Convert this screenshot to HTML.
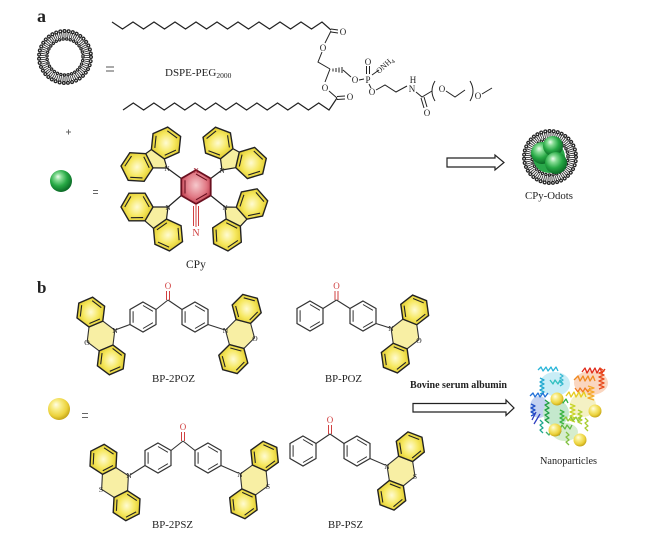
<!DOCTYPE html>
<html><head><meta charset="utf-8"><style>
html,body{margin:0;padding:0;background:#fff}
svg{display:block}
text{font-family:"Liberation Serif",serif;fill:#222}
</style></head><body>
<svg width="645" height="538" viewBox="0 0 645 538" xmlns="http://www.w3.org/2000/svg">
<defs>
<radialGradient id="gy" cx="50%" cy="50%" r="55%"><stop offset="0" stop-color="#fffbd2"/><stop offset=".55" stop-color="#f6e860"/><stop offset="1" stop-color="#e0ca2a"/></radialGradient>
<radialGradient id="gr" cx="50%" cy="45%" r="60%"><stop offset="0" stop-color="#f6c8cc"/><stop offset=".6" stop-color="#e07884"/><stop offset="1" stop-color="#b83040"/></radialGradient>
<radialGradient id="gg" cx="42%" cy="38%" r="62%" fx="36%" fy="30%"><stop offset="0" stop-color="#eefcee"/><stop offset=".25" stop-color="#86dc94"/><stop offset=".62" stop-color="#26a844"/><stop offset="1" stop-color="#0b6a26"/></radialGradient>
<radialGradient id="gs" cx="42%" cy="38%" r="62%" fx="36%" fy="30%"><stop offset="0" stop-color="#fffde6"/><stop offset=".35" stop-color="#f8ec84"/><stop offset=".75" stop-color="#ecd23c"/><stop offset="1" stop-color="#c6a61a"/></radialGradient>
<g id="y16"><polygon points="0,-16 13.86,-8 13.86,8 0,16 -13.86,8 -13.86,-8" fill="url(#gy)" stroke="#222" stroke-width="1.4"/><path d="M0,-12.3 L10.6,-6.1 M10.6,6.1 L0,12.3 M-10.6,6.1 L-10.6,-6.1" stroke="#222" stroke-width="1.1" fill="none"/></g>
<g id="y15"><polygon points="0,-15 13,-7.5 13,7.5 0,15 -13,7.5 -13,-7.5" fill="url(#gy)" stroke="#222" stroke-width="1.4"/><path d="M0,-11.5 L9.9,-5.7 M9.9,5.7 L0,11.5 M-9.9,5.7 L-9.9,-5.7" stroke="#222" stroke-width="1.1" fill="none"/></g>
<g id="w15"><polygon points="0,-15 13,-7.5 13,7.5 0,15 -13,7.5 -13,-7.5" fill="#fff" stroke="#333" stroke-width="1.2"/><path d="M0,-11.5 L9.9,-5.7 M9.9,5.7 L0,11.5 M-9.9,5.7 L-9.9,-5.7" stroke="#333" stroke-width="1" fill="none"/></g>
<g id="c15"><polygon points="0,-15 13,-7.5 13,7.5 0,15 -13,7.5 -13,-7.5" fill="#f6ea86" fill-opacity=".75" stroke="#333" stroke-width="1.1"/></g>
<g id="lipo">
<circle r="22" fill="none" stroke="#333" stroke-width="5" stroke-dasharray="0.9 1.1"/>
<circle r="26" fill="none" stroke="#222" stroke-width="4" stroke-dasharray="0.01 4.19" stroke-linecap="round"/>
<circle r="26" fill="none" stroke="#fff" stroke-width="1.5" stroke-dasharray="0.01 4.19" stroke-linecap="round"/>
<circle r="18" fill="none" stroke="#222" stroke-width="3.4" stroke-dasharray="0.01 3.59" stroke-linecap="round"/>
<circle r="18" fill="none" stroke="#fff" stroke-width="1.1" stroke-dasharray="0.01 3.59" stroke-linecap="round"/>
</g>
</defs>

<!-- ===== Part a ===== -->
<text x="37" y="22" font-size="18" font-weight="bold">a</text>
<use href="#lipo" transform="translate(65,57)"/>
<path d="M106,67 H114 M106,71 H114" stroke="#555" stroke-width="1"/>
<text x="165" y="76" font-size="11">DSPE-PEG<tspan font-size="7.5" dy="2">2000</tspan></text>

<!-- lipid chains -->
<polyline fill="none" stroke="#222" stroke-width="1.2" points="112,22 122.5,29 133,22 143.5,29 154,22 164.5,29 175,22 185.5,29 196,22 206.5,29 217,22 227.5,29 238,22 248.5,29 259,22 269.5,29 280,22 290.5,29 301,22 311.5,29 322,22 331,30"/>
<polyline fill="none" stroke="#222" stroke-width="1.2" points="123,110 133.3,103 143.6,110 153.9,103 164.2,110 174.5,103 184.8,110 195.1,103 205.4,110 215.7,103 226,110 236.3,103 246.6,110 256.9,103 267.2,110 277.5,103 287.8,110 298.1,103 308.4,110 318.7,103 329,110 337,98"/>
<g stroke="#222" stroke-width="1" fill="none">
<path d="M331,29 L338,30 M331,32 L338,33"/>
<path d="M331,31 L325,43"/>
<path d="M322,52 L318,62 L330,69"/>
<path d="M330,69 L325,82"/>
<path d="M329,91 L337,98"/>
<path d="M337,96.5 L345,96 M337,99.5 L345,99"/>
<path d="M333,68.5 V71.5 M336,68 V72 M339,67.5 V72.5 M342,67 V73"/>
<path d="M343,70 L351,77"/>
<path d="M359,80 L364,79"/>
<path d="M366.5,74 V66 M369.5,74 V66"/>
<path d="M372,75 L379,70"/>
<path d="M369,84 L371,88"/>
<path d="M376,90 L385,85 L396,92 L407,86"/>
<path d="M416,92 L422,97 L432,91"/>
<path d="M421,98 L424,108 M424,97 L427,107"/>
<path d="M435,81 Q429,91 435,101"/>
<path d="M446,91 L455,97 L465,90"/>
<path d="M470,81 Q476,91 470,101"/>
<path d="M482,94 L492,88"/>
</g>
<g font-size="9" text-anchor="middle">
<text x="343" y="35">O</text>
<text x="323" y="51">O</text>
<text x="325" y="91">O</text>
<text x="350" y="100">O</text>
<text x="355" y="83">O</text>
<text x="368" y="83">P</text>
<text x="368" y="65">O</text>
<text x="372" y="95">O</text>
<text x="412" y="92">N</text>
<text x="413" y="83">H</text>
<text x="427" y="116">O</text>
<text x="442" y="92">O</text>
<text x="478" y="99">O</text>
</g>
<text transform="translate(379,74) rotate(-42)" font-size="8">ONH<tspan font-size="6" dy="2">4</tspan></text>

<!-- plus, green sphere -->
<path d="M66,132 H71 M68.5,129.5 V134.5" stroke="#666" stroke-width="1"/>
<circle cx="61" cy="181" r="11" fill="url(#gg)"/>
<path d="M93,190.5 H98 M93,193.5 H98" stroke="#666" stroke-width="1"/>

<!-- CPy -->
<g>
<polygon points="167,168 153,167.9 145.8,153.6 151.4,149.5 164.3,158.9" fill="#f4e878" fill-opacity=".7"/>
<polygon points="222,170 220.5,158.8 232.9,148.7 239.3,152.1 235.7,167.7" fill="#f4e878" fill-opacity=".7"/>
<polygon points="168,207 153,207 145,220.9 153.5,228.3 166.5,219.1" fill="#f4e878" fill-opacity=".7"/>
<polygon points="225,207 236.3,207.2 246.9,219.2 240.4,226.2 226.1,219" fill="#f4e878" fill-opacity=".7"/>
<use href="#y16" transform="translate(137,167) rotate(33.4)"/>
<use href="#y16" transform="translate(166,143) rotate(6)"/>
<use href="#y16" transform="translate(218,143) rotate(51)"/>
<use href="#y16" transform="translate(251,163) rotate(13)"/>
<use href="#y16" transform="translate(137,207) rotate(30)"/>
<use href="#y16" transform="translate(168,235) rotate(54.8)"/>
<use href="#y16" transform="translate(252,204) rotate(18.6)"/>
<use href="#y16" transform="translate(227,235) rotate(-3.4)"/>
<g stroke="#222" stroke-width="1.2" fill="none">
<path d="M167,168 L153,167.9 M167,168 L164.3,158.9 M151.4,149.5 L145.8,153.6"/>
<path d="M222,170 L220.5,158.8 M222,170 L235.7,167.7 M232.9,148.7 L239.3,152.1"/>
<path d="M168,207 L153,207 M168,207 L166.5,219.1 M145,220.9 L153.5,228.3"/>
<path d="M225,207 L236.3,207.2 M225,207 L226.1,219 M246.9,219.2 L240.4,226.2"/>
<path d="M181.3,178.5 L167,168 M210.7,178.5 L222,170 M181.3,195.5 L168,207 M210.7,195.5 L225,207"/>
</g>
<polygon points="196,170 210.7,178.5 210.7,195.5 196,204 181.3,195.5 181.3,178.5" fill="url(#gr)" stroke="#6a1020" stroke-width="1.8"/>
<path d="M196,174 L207,180.3 M207,193.5 L196,199.8 M185,193.5 L185,180.3" stroke="#6a1020" stroke-width="1.1" fill="none"/>
<path d="M196,204 V227 M193.5,206 V226 M198.5,206 V226" stroke="#d04040" stroke-width="1"/>
<g font-size="7" text-anchor="middle">
<text x="167" y="171">N</text><text x="222" y="173">N</text><text x="168" y="210">N</text><text x="225" y="210">N</text>
<text x="196" y="173" style="fill:#a02030">N</text>
</g>
<text x="196" y="236" font-size="10" text-anchor="middle" style="fill:#d04040">N</text>
</g>
<text x="186" y="268" font-size="11.5">CPy</text>

<!-- arrow a -->
<polygon points="447,158 495,158 495,155 504,162.5 495,170 495,167 447,167" fill="#fff" stroke="#222" stroke-width="1.2"/>

<!-- CPy-Odots -->
<use href="#lipo" transform="translate(550,157)"/>
<circle cx="549" cy="157" r="16" fill="#2aa84a"/>
<circle cx="542" cy="153" r="11" fill="url(#gg)"/>
<circle cx="553" cy="146" r="10" fill="url(#gg)"/>
<circle cx="556" cy="163" r="11" fill="url(#gg)"/>
<text x="525" y="199" font-size="10.5" textLength="48" lengthAdjust="spacingAndGlyphs">CPy-Odots</text>

<!-- ===== Part b ===== -->
<text x="37" y="293" font-size="17" font-weight="bold">b</text>

<!-- BP-2POZ -->
<use href="#c15" transform="translate(101,336) rotate(7)"/>
<use href="#y15" transform="translate(90.8,312.1) rotate(7)"/>
<use href="#y15" transform="translate(111.2,359.9) rotate(7)"/>
<use href="#c15" transform="translate(240,334) rotate(-15)"/>
<use href="#y15" transform="translate(246.7,308.9) rotate(-15)"/>
<use href="#y15" transform="translate(233.3,359.1) rotate(-15)"/>
<use href="#w15" transform="translate(143,317)"/>
<use href="#w15" transform="translate(195,317)"/>
<g stroke="#333" stroke-width="1.1" fill="none">
<path d="M168,300 L156,309.5 M168,300 L182,309.5 M130,324.5 L115,330 M208,324.5 L225,330"/>
</g>
<path d="M166.5,300 V291 M169.5,300 V291" stroke="#d04040" stroke-width="1"/>

<!-- BP-POZ -->
<use href="#c15" transform="translate(405,334) rotate(-8)"/>
<use href="#y15" transform="translate(414.7,309.9) rotate(-8)"/>
<use href="#y15" transform="translate(395.3,358.1) rotate(-8)"/>
<use href="#w15" transform="translate(310,316)"/>
<use href="#w15" transform="translate(363,316)"/>
<g stroke="#333" stroke-width="1.1" fill="none">
<path d="M336.5,300 L323,308.5 M336.5,300 L350,308.5 M376,323.5 L390,328"/>
</g>
<path d="M335,300 V291 M338,300 V291" stroke="#d04040" stroke-width="1"/>

<!-- BP-2PSZ -->
<use href="#c15" transform="translate(115,482.5) rotate(3)"/>
<use href="#y15" transform="translate(103.4,459.3) rotate(3)"/>
<use href="#y15" transform="translate(126.6,505.7) rotate(3)"/>
<use href="#c15" transform="translate(254,480) rotate(-6)"/>
<use href="#y15" transform="translate(264.6,456.2) rotate(-6)"/>
<use href="#y15" transform="translate(243.4,503.8) rotate(-6)"/>
<use href="#w15" transform="translate(158,458)"/>
<use href="#w15" transform="translate(208,458)"/>
<g stroke="#333" stroke-width="1.1" fill="none">
<path d="M183,441 L171,450.5 M183,441 L195,450.5 M145,465.5 L130,475 M221,465.5 L238,473"/>
</g>
<path d="M181.5,441 V432 M184.5,441 V432" stroke="#d04040" stroke-width="1"/>

<!-- BP-PSZ -->
<use href="#c15" transform="translate(401,471) rotate(-9)"/>
<use href="#y15" transform="translate(410.3,446.7) rotate(-9)"/>
<use href="#y15" transform="translate(391.7,495.3) rotate(-9)"/>
<use href="#w15" transform="translate(303,451)"/>
<use href="#w15" transform="translate(357,451)"/>
<g stroke="#333" stroke-width="1.1" fill="none">
<path d="M330,434 L316,443.5 M330,434 L344,443.5 M370,458.5 L385,465"/>
</g>
<path d="M328.5,434 V425 M331.5,434 V425" stroke="#d04040" stroke-width="1"/>

<!-- atom labels b -->
<g font-size="9" text-anchor="middle">
<text x="168" y="289" style="fill:#d04040">O</text>
<text x="336.5" y="289" style="fill:#d04040">O</text>
<text x="183" y="430" style="fill:#d04040">O</text>
<text x="330" y="423" style="fill:#d04040">O</text>
</g>
<g font-size="7.5" text-anchor="middle">
<text x="115" y="333">N</text><text x="87" y="345">O</text>
<text x="225.5" y="333">N</text><text x="255" y="341">O</text>
<text x="391" y="331">N</text><text x="419" y="343">O</text>
<text x="129" y="478">N</text><text x="101" y="492">S</text>
<text x="240" y="477">N</text><text x="268" y="489">S</text>
<text x="387" y="469">N</text><text x="415" y="479">S</text>
</g>

<!-- yellow sphere -->
<circle cx="59" cy="409" r="11" fill="url(#gs)"/>
<path d="M82,413.5 H88 M82,417.5 H88" stroke="#666" stroke-width="1"/>

<!-- labels b -->
<text x="152" y="382" font-size="10.8" textLength="43" lengthAdjust="spacingAndGlyphs">BP-2POZ</text>
<text x="325" y="382" font-size="10.8" textLength="37" lengthAdjust="spacingAndGlyphs">BP-POZ</text>
<text x="410" y="388" font-size="10" font-weight="bold" textLength="97" lengthAdjust="spacingAndGlyphs">Bovine serum albumin</text>
<text x="152" y="528" font-size="10.8" textLength="41" lengthAdjust="spacingAndGlyphs">BP-2PSZ</text>
<text x="328" y="528" font-size="10.8" textLength="35" lengthAdjust="spacingAndGlyphs">BP-PSZ</text>
<text x="540" y="464" font-size="10.5" textLength="57" lengthAdjust="spacingAndGlyphs">Nanoparticles</text>

<!-- arrow b -->
<polygon points="413,403.5 506,403.5 506,400 514,408 506,415.5 506,412 413,412" fill="#fff" stroke="#222" stroke-width="1.2"/>

<!-- protein -->
<g opacity=".28">
<ellipse cx="555" cy="384" rx="15" ry="12" fill="#40c0e0"/>
<ellipse cx="539" cy="407" rx="9" ry="11" fill="#3060d0"/>
<ellipse cx="556" cy="413" rx="13" ry="13" fill="#30b050"/>
<ellipse cx="565" cy="432" rx="13" ry="9" fill="#70c050"/>
<ellipse cx="591" cy="383" rx="17" ry="12" fill="#f07020"/>
<ellipse cx="583" cy="405" rx="13" ry="12" fill="#d8d030"/>
</g>
<g fill="none" stroke-width="1.3" stroke-linejoin="round">
<path d="M582,372 l3,-4 l2,5 l3,-5 l2,5 l3,-5 l2,5 l3,-5 l2,5 l3,-4" stroke="#e02a1a"/>
<path d="M600,368 l4,3 l-5,2 l5,2 l-5,2 l5,2 l-5,2 l5,2 l-5,2 l5,2 l-5,2" stroke="#e8481a"/>
<path d="M574,380 l4,-4 l2,5 l3,-5 l2,5 l3,-5 l2,5 l3,-5 l2,5" stroke="#f08a20"/>
<path d="M575,388 l3,4 l2,-4 l3,4 l2,-4 l3,4 l2,-4" stroke="#f07a20"/>
<path d="M588,386 l6,2 l-6,2 l6,2 l-6,2 l6,2 l-6,2 l6,2" stroke="#f5a828"/>
<path d="M566,396 l3,-4 l2,5 l3,-5 l2,5 l3,-5 l2,5 l3,-5 l2,5" stroke="#e6cc20"/>
<path d="M570,404 l5,2 l-5,2 l5,2 l-5,2 l5,2 l-5,2 l5,2 l-5,2 l5,2" stroke="#c8d428"/>
<path d="M578,410 l4,2 l-4,2 l4,2 l-4,2 l4,2 l-4,2 l4,2" stroke="#b0d030"/>
<path d="M585,418 l3,3 l-3,2 l3,3 l-3,2 l3,3" stroke="#a8cc30"/>
<path d="M563,420 l3,-3 l2,4 l3,-4 l2,4 l3,-4 l2,4 l3,-4" stroke="#90c838"/>
<path d="M552,425 l3,4 l2,-4 l3,4 l2,-4 l3,4 l2,-4 l3,4 l2,-4" stroke="#60b840"/>
<path d="M566,432 l3,3 l-3,2 l3,3 l-3,2 l3,3" stroke="#80c040"/>
<path d="M545,400 l4,3 l-4,2 l4,3 l-4,2 l4,3 l-4,2 l4,3 l-4,2 l4,3" stroke="#22a048"/>
<path d="M553,402 l3,-3 l2,4 l3,-4 l2,4 l3,-4 l2,4" stroke="#30b040"/>
<path d="M560,410 l4,2 l-4,2 l4,2 l-4,2 l4,2 l-4,2 l4,2" stroke="#3cb444"/>
<path d="M538,370 l3,-3 l2,4 l3,-4 l2,4 l3,-4 l2,4 l3,-4 l2,4" stroke="#28b4d8"/>
<path d="M540,378 l4,2 l-4,2 l4,2 l-4,2 l4,2 l-4,2 l4,2 l-4,2" stroke="#20a8d0"/>
<path d="M550,380 l3,4 l2,-4 l3,4 l2,-4 l3,4" stroke="#30c0c0"/>
<path d="M560,374 l3,2 l-3,2 l3,2 l-3,2 l3,2 l-3,2" stroke="#38b8d0"/>
<path d="M530,396 l3,-3 l2,4 l3,-4 l2,4 l3,-4 l2,4 l3,-4" stroke="#2070d8"/>
<path d="M531,404 l4,2 l-4,2 l4,2 l-4,2 l4,2 l-4,2" stroke="#2050c8"/>
<path d="M536,412 l-4,8 M540,414 l-6,10" stroke="#3040c0"/>
<path d="M540,420 l3,3 l-3,2 l3,3 l-3,2 l3,3" stroke="#20a890"/>
<path d="M546,432 l3,3 l2,-4 l3,4 l2,-4 l3,4 l2,-4" stroke="#40b070"/>
</g>
<circle cx="557" cy="399" r="6.5" fill="url(#gs)"/>
<circle cx="595" cy="411" r="6.5" fill="url(#gs)"/>
<circle cx="555" cy="430" r="6.5" fill="url(#gs)"/>
<circle cx="580" cy="440" r="6.5" fill="url(#gs)"/>
</svg>
</body></html>
